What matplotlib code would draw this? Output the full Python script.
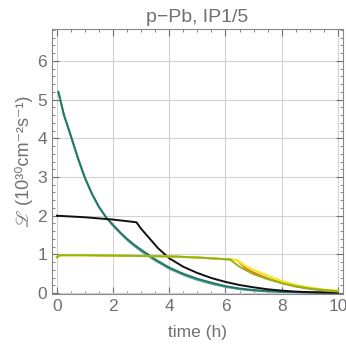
import matplotlib
matplotlib.use("Agg")
import matplotlib.pyplot as plt
from matplotlib.ticker import MultipleLocator

plt.rcParams['font.family'] = ['Liberation Sans', 'STIXGeneral', 'DejaVu Sans']

# Teal (burn-off, highest peak)
t_teal = [0.05, 0.25, 0.5, 0.75, 1.0, 1.25, 1.5, 1.75, 2.0, 2.25, 2.5, 2.75, 3.0, 3.5,
          4.0, 4.5, 5.0, 5.5, 6.0, 6.5, 7.0, 7.5, 8.0, 9.0, 10.0]
y_teal = [5.2, 4.6, 4.05, 3.48, 2.97, 2.56, 2.22, 1.96, 1.76, 1.57, 1.40, 1.25, 1.12, 0.87,
          0.66, 0.50, 0.37, 0.27, 0.18, 0.12, 0.08, 0.055, 0.035, 0.02, 0.01]
t_teal2 = [0.05, 0.25, 0.5, 0.75, 1.0, 1.25, 1.5, 1.75, 2.0, 2.25, 2.5, 2.75, 3.0, 3.5,
           4.0, 4.5, 5.0, 5.5, 6.0, 6.5, 7.0, 7.5, 8.0, 9.0, 10.0]
y_teal2 = [5.2, 4.6, 4.05, 3.48, 2.97, 2.56, 2.22, 1.95, 1.74, 1.55, 1.37, 1.22, 1.08, 0.84,
           0.63, 0.47, 0.34, 0.24, 0.16, 0.10, 0.065, 0.045, 0.03, 0.015, 0.01]

# Black
t_black = [0.0, 1.0, 2.0, 2.6, 2.83, 3.0, 3.3, 3.6, 4.0, 4.5, 5.0, 5.5, 6.0, 6.5,
           7.0, 7.5, 8.0, 8.5, 9.0, 10.0]
y_black = [2.0, 1.96, 1.9, 1.85, 1.83, 1.66, 1.41, 1.16, 0.9, 0.68, 0.52, 0.39, 0.29, 0.21,
           0.15, 0.1, 0.065, 0.04, 0.025, 0.01]

# Green / orange / yellow (levelled)
t_green = [0.0, 0.1, 1.0, 2.0, 3.0, 4.0, 5.0, 6.16, 6.5, 7.0, 7.5, 8.0, 8.5, 9.0, 9.5, 10.0]
y_green = [0.93, 0.98, 0.98, 0.97, 0.96, 0.95, 0.92, 0.87, 0.68, 0.49, 0.36, 0.26, 0.18, 0.12, 0.08, 0.05]
t_orange = [0.0, 0.1, 1.0, 2.0, 3.0, 4.0, 5.0, 6.16, 6.42, 6.75, 7.0, 7.5, 8.0, 8.5, 9.0, 9.5, 10.0]
y_orange = [0.93, 0.98, 0.98, 0.97, 0.96, 0.95, 0.92, 0.87, 0.85, 0.62, 0.53, 0.38, 0.26, 0.17, 0.11, 0.07, 0.04]
t_yellow = [0.0, 0.1, 1.0, 2.0, 3.0, 4.0, 5.0, 6.16, 6.42, 6.75, 7.0, 7.5, 8.0, 8.5, 9.0, 9.5, 10.0]
y_yellow = [0.93, 0.98, 0.98, 0.97, 0.96, 0.95, 0.92, 0.87, 0.85, 0.68, 0.60, 0.45, 0.31, 0.21, 0.14, 0.09, 0.06]

x_ticks = [0, 2, 4, 6, 8, 10]
y_ticks = [0, 1, 2, 3, 4, 5, 6]

gray = '#707070'

fig = plt.figure(figsize=(3.46, 3.47), dpi=100)
ax = fig.add_axes([0.150, 0.153, 0.841, 0.763])

ax.plot(t_teal2, y_teal2, color='#5fa595', lw=1.4)
ax.plot(t_teal, y_teal, color='#24766a', lw=1.4)
ax.plot(t_black, y_black, color='#111111', lw=1.4)
ax.plot(t_orange, y_orange, color='#f26a1b', lw=1.4)
ax.plot(t_yellow, y_yellow, color='#f2e81a', lw=1.6)
ax.plot(t_green, y_green, color='#8fb51a', lw=1.4)

ax.set_xlim(-0.18, 10.18)
ax.set_ylim(-0.02, 6.82)
ax.set_xticks(x_ticks)
ax.set_yticks(y_ticks)
ax.xaxis.set_minor_locator(MultipleLocator(0.5))
ax.yaxis.set_minor_locator(MultipleLocator(0.2))
ax.grid(True, which='major', color='#d3d3d3', lw=0.8)
ax.set_axisbelow(True)

ax.tick_params(which='both', direction='in', top=True, right=True, colors=gray,
               labelcolor=gray, labelsize=12.5)
ax.tick_params(which='major', length=5, width=0.8)
ax.tick_params(which='minor', length=2.5, width=0.6)
for s in ax.spines.values():
    s.set_color('#888888')
    s.set_linewidth(0.8)

ax.set_title('p\u2212Pb, IP1/5', color=gray, fontsize=14, pad=5)
ax.set_xlabel('time (h)', color=gray, fontsize=12.5, labelpad=8)
ax.set_ylabel('\u2112 (10\u00b3\u2070cm\u207b\u00b2s\u207b\u00b9)', color=gray, fontsize=13, labelpad=3)

fig.savefig('out.png', dpi=100)
